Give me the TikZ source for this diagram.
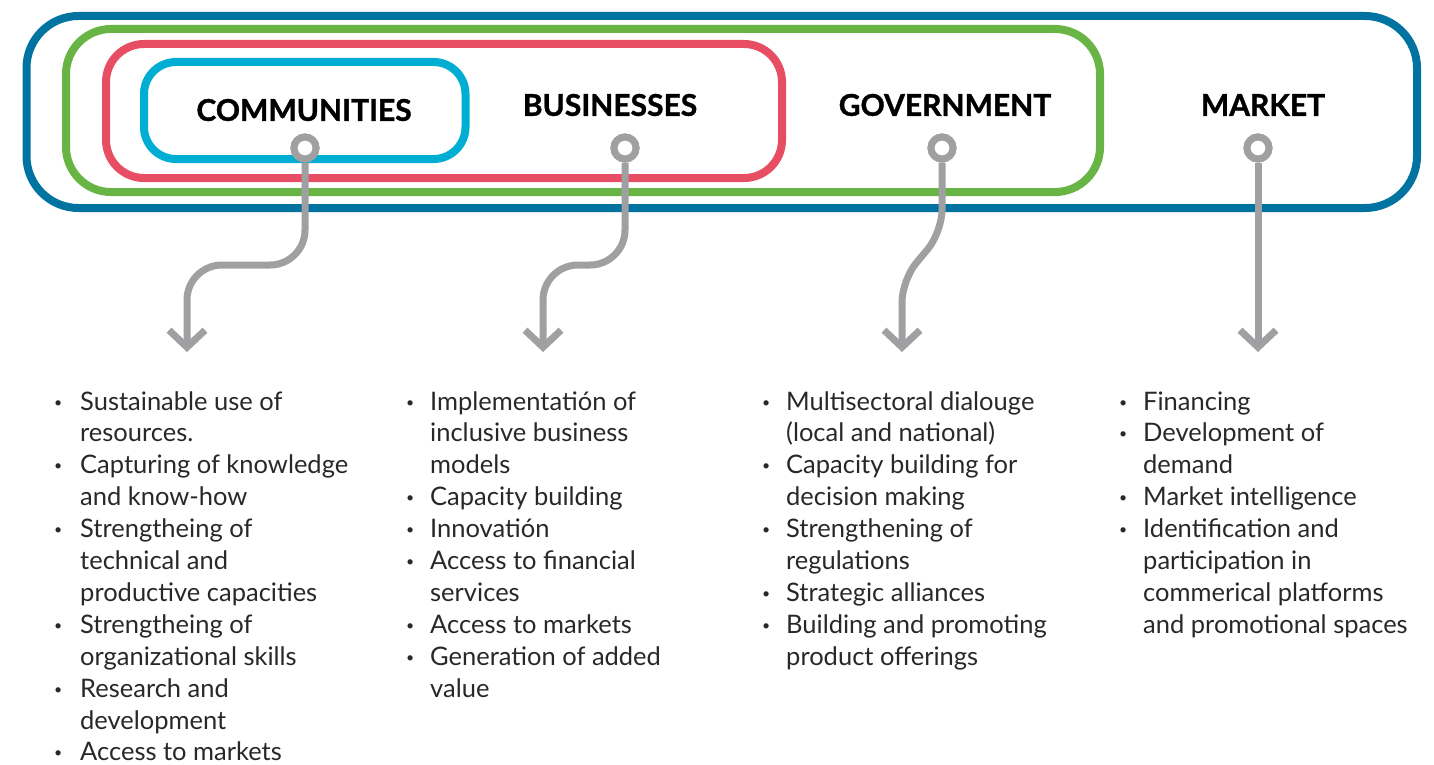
\documentclass[tikz,border=0pt]{standalone}
\usepackage{fontspec}
\setmainfont{Lato}
\newfontfamily\headfont{Lato}[BoldFeatures={FakeBold=1.2}]
\usetikzlibrary{arrows.meta}
\definecolor{cblue}{RGB}{0,115,160}
\definecolor{cgreen}{RGB}{104,180,69}
\definecolor{cred}{RGB}{232,78,99}
\definecolor{ccyan}{RGB}{0,174,212}
\definecolor{cgray}{RGB}{160,160,162}
\definecolor{ctext}{RGB}{40,40,40}
\newcommand\blt{\makebox[0pt][c]{\raisebox{3pt}{\scalebox{0.55}{\textbullet}}}}
\begin{document}
\begin{tikzpicture}[x=1pt,y=-1pt,
  ring/.style={line width=8pt},
  conn/.style={draw=cgray,line width=7pt,rounded corners=35pt,
     -{Straight Barb[length=17pt,width=36pt,sharp]}},
  hub/.style={circle,draw=cgray,fill=white,line width=7pt,minimum size=22pt,inner sep=0pt},
  head/.style={font=\fontsize{30}{36}\selectfont\headfont\bfseries,text=black,inner sep=0pt},
  listtext/.style={font=\fontsize{25.5}{31.9}\selectfont,text=ctext,inner sep=0pt,anchor=base west}
]
\useasboundingbox (0,0) rectangle (1434,765);
% enclosing rounded rectangles
\draw[ring,cblue,rounded corners=52pt] (26.5,16) rectangle (1417,208);
\draw[ring,cgreen,rounded corners=45pt] (66,29) rectangle (1100,192);
\draw[ring,cred,rounded corners=38pt] (106,44) rectangle (782,178);
\draw[ring,ccyan,rounded corners=32pt] (144,62) rectangle (465.5,159);
% headings
\node[head] (hcom) at (304,110) {COMMUNITIES};
\node[head] (hbus) at (610,105) {BUSINESSES};
\node[head] (hgov) at (945,105) {GOVERNMENT};
\node[head] (hmar) at (1263,105) {MARKET};
% hubs
\node[hub] (pcom) at (305,148) {};
\node[hub] (pbus) at (625,148) {};
\node[hub] (pgov) at (942,148) {};
\node[hub] (pmar) at (1258,148) {};
% arrow ends
\coordinate (tcom) at (187,352);
\coordinate (tbus) at (543,352);
\coordinate (tgov) at (902,352);
\coordinate (tmar) at (1258,352);
% connectors
\draw[conn] (pcom.south) -- (305,265) -- (187,265) -- (tcom);
\draw[conn] (pbus.south) -- (625,265) -- (543,265) -- (tbus);
\draw[conn,rounded corners=22pt] (pgov.south) -- (942,232) -- (902,280) -- (tgov);
\draw[conn] (pmar.south) -- (tmar);
% redraw hubs on top
\node[hub] at (pcom) {};
\node[hub] at (pbus) {};
\node[hub] at (pgov) {};
\node[hub] at (pmar) {};
% lists
\node[listtext] (lcom) at (58,410) {\begin{tabular}[t]{@{}l@{\hspace{22pt}}l@{}}
\blt & Sustainable use of\\
 & resources.\\
\blt & Capturing of knowledge\\
 & and know-how\\
\blt & Strengtheing of\\
 & technical and\\
 & productive capacities\\
\blt & Strengtheing of\\
 & organizational skills\\
\blt & Research and\\
 & development\\
\blt & Access to markets
\end{tabular}};
\node[listtext] (lbus) at (410,410) {\begin{tabular}[t]{@{}l@{\hspace{20pt}}l@{}}
\blt & Implementatión of\\
 & inclusive business\\
 & models\\
\blt & Capacity building\\
\blt & Innovatión\\
\blt & Access to financial\\
 & services\\
\blt & Access to markets\\
\blt & Generation of added\\
 & value
\end{tabular}};
\node[listtext] (lgov) at (766,410) {\begin{tabular}[t]{@{}l@{\hspace{20pt}}l@{}}
\blt & Multisectoral dialouge\\
 & (local and national)\\
\blt & Capacity building for\\
 & decision making\\
\blt & Strengthening of\\
 & regulations\\
\blt & Strategic alliances\\
\blt & Building and promoting\\
 & product offerings
\end{tabular}};
\node[listtext] (lmar) at (1123,410) {\begin{tabular}[t]{@{}l@{\hspace{20pt}}l@{}}
\blt & Financing\\
\blt & Development of\\
 & demand\\
\blt & Market intelligence\\
\blt & Identification and\\
 & participation in\\
 & commerical platforms\\
 & and promotional spaces
\end{tabular}};
\end{tikzpicture}
\end{document}
